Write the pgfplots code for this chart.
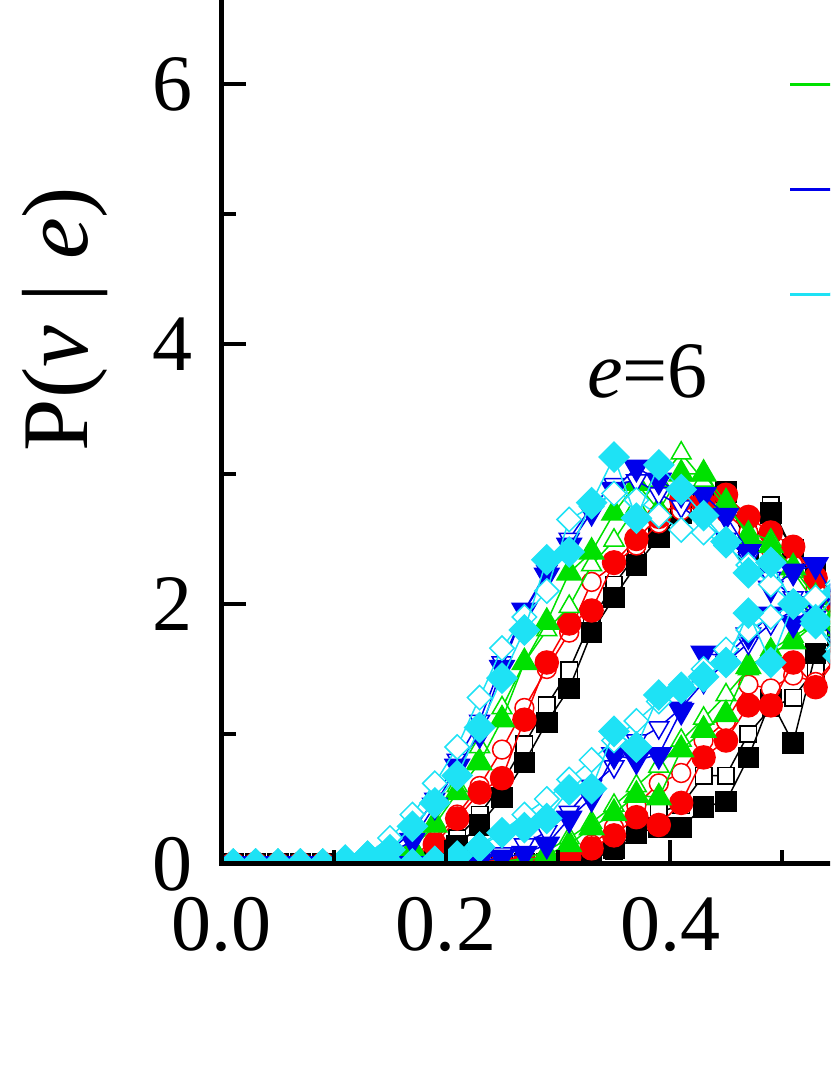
\documentclass[border=0pt]{standalone}
\usepackage{pgfplots}
\pgfplotsset{compat=1.18}
\usepackage{pgfplotstable}
\usepackage{fontspec}
\setmainfont{Liberation Serif}
\definecolor{cgreen}{RGB}{0,225,0}
\definecolor{cblue}{RGB}{0,0,235}
\definecolor{ccyan}{RGB}{30,226,245}
\definecolor{cred}{RGB}{250,0,0}

\pgfplotstableread{
x bkFA bkOA rdOA rdFA gnOA gnFA blOA blFA cyOA cyFA bkFB bkOB rdOB rdFB gnOB gnFB blOB blFB cyOB cyFB
0.01 0 0 0 0 0 0 0 0 0 0 0 0 0 0 0 0 0 0 0 0
0.03 0 0 0 0 0 0 0 0 0 0 0 0 0 0 0 0 0 0 0 0
0.05 0 0 0 0 0 0 0 0 0 0 0 0 0 0 0 0 0 0 0 0
0.07 0 0 0 0 0 0 0 0 0 0 0 0 0 0 0 0 0 0 0 0
0.09 0 0 0 0 0 0 0 0 0 0 0 0 0 0 0 0 0 0 0 0
0.11 0 0 0 0 0 0 0.01 0.01 0.03 0.03 0 0 0 0 0 0 0 0 0 0
0.13 0 0 0 0 0.01 0.01 0.03 0.02 0.08 0.06 0 0 0 0 0 0 0 0 0 0
0.15 0 0 0 0.02 0.04 0.03 0.10 0.08 0.20 0.11 0 0 0 0 0 0 0 0 0 0
0.17 0.02 0.03 0.06 0.05 0.14 0.12 0.25 0.18 0.38 0.29 0 0 0 0 0 0 0 0 0 0
0.19 0.06 0.09 0.18 0.15 0.33 0.30 0.50 0.45 0.62 0.47 0 0 0 0 0 0 0 0 0.04 0.02
0.21 0.14 0.20 0.38 0.35 0.60 0.55 0.80 0.75 0.90 0.68 0 0 0 0 0 0 0 0.01 0.08 0.06
0.23 0.30 0.38 0.60 0.55 0.90 0.78 1.10 1.00 1.28 1.05 0 0 0 0 0 0 0.04 0.02 0.15 0.13
0.25 0.51 0.62 0.88 0.66 1.20 1.11 1.55 1.51 1.66 1.43 0 0 0 0 0.02 0.01 0.08 0.05 0.25 0.24
0.27 0.78 0.92 1.20 1.11 1.55 1.55 1.95 1.95 1.90 1.80 0 0 0 0.01 0.04 0.02 0.15 0.08 0.38 0.28
0.29 1.09 1.22 1.50 1.55 1.80 1.86 2.25 2.22 2.10 2.34 0 0 0 0.02 0.10 0.07 0.25 0.15 0.50 0.35
0.31 1.35 1.49 1.78 1.85 1.98 2.24 2.50 2.45 2.65 2.40 0.02 0 0.06 0.05 0.20 0.15 0.40 0.35 0.65 0.57
0.33 1.78 1.88 2.17 1.95 2.30 2.40 2.75 2.71 2.75 2.78 0.05 0.04 0.15 0.12 0.32 0.28 0.60 0.51 0.80 0.58
0.35 2.05 2.15 2.30 2.32 2.49 2.70 2.92 2.88 2.85 3.13 0.12 0.10 0.28 0.22 0.45 0.39 0.75 0.84 0.95 1.02
0.37 2.30 2.38 2.45 2.50 2.75 2.93 2.95 3.05 2.80 2.66 0.24 0.22 0.45 0.36 0.60 0.53 0.95 0.80 1.10 0.90
0.39 2.51 2.58 2.62 2.67 2.95 2.72 2.85 2.95 2.68 3.07 0.28 0.40 0.62 0.30 0.75 0.51 1.05 0.84 1.25 1.30
0.41 2.70 2.72 2.72 2.80 3.16 3.00 2.75 2.85 2.57 2.88 0.28 0.45 0.70 0.47 0.95 0.88 1.20 1.18 1.38 1.35
0.43 2.80 2.82 2.75 2.78 2.95 3.00 2.62 2.84 2.55 2.68 0.44 0.68 0.95 0.82 1.12 1.03 1.40 1.62 1.50 1.44
0.45 2.86 2.75 2.70 2.84 2.75 2.78 2.50 2.68 2.45 2.48 0.48 0.68 1.10 0.95 1.30 1.15 1.55 1.60 1.65 1.55
0.47 2.42 2.60 2.55 2.67 2.55 2.52 2.35 2.40 2.30 2.24 0.82 1.00 1.38 1.22 1.50 1.52 1.70 1.76 1.80 1.93
0.49 2.70 2.76 2.42 2.55 2.49 2.45 2.20 2.12 2.15 2.32 1.26 1.20 1.35 1.22 1.65 1.62 1.85 1.92 1.90 1.55
0.51 2.42 2.40 2.30 2.44 2.25 2.28 2.05 2.25 2.00 2.00 0.93 1.28 1.45 1.55 1.75 1.71 1.95 1.85 2.00 2.00
0.53 2.25 2.20 2.12 2.20 2.00 2.05 1.90 2.30 1.85 1.85 1.62 1.50 1.40 1.36 1.85 1.85 2.05 2.00 2.05 1.88
0.55 2.02 1.95 1.90 2.00 1.80 1.85 1.70 2.00 1.65 1.60 1.75 1.70 1.60 1.60 1.95 1.95 2.10 2.10 2.15 2.10
0.57 1.80 1.72 1.65 1.78 1.55 1.60 1.50 1.75 1.45 1.40 1.95 1.90 1.80 1.80 2.00 2.05 2.15 2.15 2.20 2.20
0.59 1.55 1.48 1.42 1.55 1.32 1.38 1.30 1.50 1.25 1.20 2.10 2.05 1.90 1.95 2.05 2.10 2.20 2.20 2.25 2.25
}\data

\pgfplotsset{
  bk/.style={black, line width=1.5pt, mark=square*, mark size=10pt},
  rd/.style={cred, line width=1.5pt, mark=*, mark size=11.5pt},
  gn/.style={cgreen, line width=1.5pt, mark=triangle*, mark size=14pt},
  bl/.style={cblue, line width=1.5pt, mark=triangle*, mark size=14pt},
  cy/.style={ccyan, line width=1.5pt, mark=square*, mark size=10.5pt},
  opn/.style={mark options={solid, fill=white, line width=1.5pt, scale=0.82, #1}},
  opn/.default={},
}

\begin{document}
\begin{tikzpicture}
\useasboundingbox (-222pt,-211pt) rectangle (608pt,864pt);
\clip (-222pt,-211pt) rectangle (608pt,864pt);
\begin{axis}[
  at={(0pt,0pt)}, anchor=south west,
  x=1120pt, y=130pt,
  xmin=0, xmax=0.7, ymin=0, ymax=7.5,
  axis on top,
  clip marker paths=true,
  axis line style={line width=5pt},
  tick align=inside, tick pos=left,
  major tick length=24pt, minor tick length=14pt,
  tick style={black, line width=4pt},
  minor tick style={black, line width=4pt},
  xtick={0,0.2,0.4}, minor xtick={0.1,0.3,0.5},
  ytick={0,2,4,6}, minor ytick={1,3,5,7},
  /pgf/number format/assume math mode=true,
  tick label style={font=\fontsize{80}{96}\selectfont},
  xticklabel style={/pgf/number format/fixed, /pgf/number format/precision=1, /pgf/number format/fixed zerofill, inner sep=0pt, yshift=-33pt},
  yticklabel style={inner sep=0pt, xshift=-29pt},
  ylabel={P(\textit{v} | \textit{e})},
  every axis y label/.style={at={(axis description cs:-0.2003,0.559)}, rotate=90, anchor=center, font=\fontsize{94}{110}\selectfont},
  legend style={at={(axis description cs:0.7232,1.0690)}, anchor=north west, draw=none, fill=none, inner sep=0pt, outer sep=0pt, row sep=0pt, nodes={inner sep=0pt, font=\fontsize{80}{96}\selectfont}},
  legend cell align=left,
  legend image code/.code={\pgfpathrectangle{\pgfpoint{0pt}{-52.5pt}}{\pgfpoint{110pt}{105pt}}\pgfusepath{discard}\draw[mark repeat=2,mark phase=2,#1, line width=3pt] plot coordinates {(0pt,0pt) (55pt,0pt) (110pt,0pt)};},
]
% black
\addplot[bk, opn, forget plot] table[x=x,y=bkOB]{\data};
\addplot[bk, mark options={solid}, forget plot] table[x=x,y=bkFB]{\data};
\addplot[bk, opn, forget plot] table[x=x,y=bkOA]{\data};
\addplot[bk, mark options={solid}] table[x=x,y=bkFA]{\data};
\addlegendentry{}
% red
\addplot[rd, opn, forget plot] table[x=x,y=rdOB]{\data};
\addplot[rd, mark options={solid}, forget plot] table[x=x,y=rdFB]{\data};
\addplot[rd, opn, forget plot] table[x=x,y=rdOA]{\data};
\addplot[rd, mark options={solid}] table[x=x,y=rdFA]{\data};
\addlegendentry{}
% green
\addplot[gn, opn, forget plot] table[x=x,y=gnOB]{\data};
\addplot[gn, mark options={solid}, forget plot] table[x=x,y=gnFB]{\data};
\addplot[gn, opn, forget plot] table[x=x,y=gnOA]{\data};
\addplot[gn, mark options={solid}] table[x=x,y=gnFA]{\data};
\addlegendentry{}
% blue
\addplot[bl, opn={rotate=180}, forget plot] table[x=x,y=blOB]{\data};
\addplot[bl, mark options={solid, rotate=180}, forget plot] table[x=x,y=blFB]{\data};
\addplot[bl, opn={rotate=180}, forget plot] table[x=x,y=blOA]{\data};
\addplot[bl, mark options={solid, rotate=180}] table[x=x,y=blFA]{\data};
\addlegendentry{}
% cyan
\addplot[cy, opn={rotate=45}, forget plot] table[x=x,y=cyOB]{\data};
\addplot[cy, mark options={solid, rotate=45}, forget plot] table[x=x,y=cyFB]{\data};
\addplot[cy, opn={rotate=45}, forget plot] table[x=x,y=cyOA]{\data};
\addplot[cy, mark options={solid, rotate=45}] table[x=x,y=cyFA]{\data};
\addlegendentry{}
\node[font=\fontsize{80}{96}\selectfont, anchor=base, inner sep=0pt] at (axis cs:0.380,3.585) {\textit{e}=6};
\end{axis}
\end{tikzpicture}
\end{document}
